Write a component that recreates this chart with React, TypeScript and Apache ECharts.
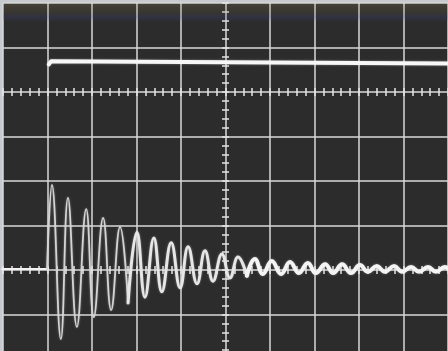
import React, { useEffect, useRef } from "react";
import * as echarts from "echarts";

// Graticule: 10 x 8 divisions, values in divisions (x: 0..10, y: -4..4)
const xDivisions = [0, 10];
const yDivisions = [-4, 4];
const tickAxisRows = [2, -2]; // horizontal centre lines carrying sub-division ticks
const tickAxisCol = 5; // vertical centre line carrying sub-division ticks

// Upper trace (step)
const stepLow: [number, number][] = [
  [0, 1.03],
  [0.94, 1.03],
];
const stepHigh: [number, number][] = [
  [1.03, 2.62],
  [1.08, 2.69],
  [10, 2.64],
];

// Lower trace: flat pre-trigger level then damped ringing
const preTrigger: [number, number][] = [
  [0, -1.99],
  [0.99, -1.98],
];
const peakX = [1.10, 1.46, 1.87, 2.25, 2.63, 3.01, 3.39, 3.78, 4.16, 4.54, 4.92, 5.28, 5.66, 6.04, 6.45, 6.85, 7.24, 7.62, 8.02, 8.40, 8.79, 9.17, 9.55, 9.93];
const peakY = [-0.09, -0.38, -0.63, -0.83, -1.03, -1.15, -1.28, -1.39, -1.48, -1.57, -1.64, -1.71, -1.75, -1.80, -1.82, -1.84, -1.87, -1.87, -1.89, -1.91, -1.91, -1.93, -1.93, -1.93];
const troughX = [1.30, 1.66, 2.04, 2.43, 2.81, 3.19, 3.57, 3.98, 4.36, 4.72, 5.10, 5.48, 5.84, 6.25, 6.65, 7.03, 7.42, 7.82, 8.20, 8.58, 8.97, 9.35, 9.73];
const troughY = [-3.55, -3.28, -3.06, -2.90, -2.74, -2.61, -2.49, -2.40, -2.31, -2.25, -2.18, -2.13, -2.09, -2.09, -2.07, -2.07, -2.07, -2.07, -2.04, -2.04, -2.04, -2.04, -2.04];
const ringEnd: [number, number] = [10, -1.97];

export default function App() {
  const ref = useRef<HTMLDivElement>(null);
  useEffect(() => {
    if (!ref.current) return;
    const chart = echarts.init(ref.current, null, { renderer: "svg" });

    const ring: [number, number][] = [preTrigger[preTrigger.length - 1]];
    for (let i = 0; i < peakX.length; i++) {
      ring.push([peakX[i], peakY[i]]);
      if (i < troughX.length) ring.push([troughX[i], troughY[i]]);
    }
    ring.push(ringEnd);
    // split by writing speed (early parts are written faster -> thinner/dimmer)
    const seg1 = ring.slice(0, 11);
    const seg2 = ring.slice(10, 25);
    const seg3 = ring.slice(24);

    const gridTop = 3;
    const gridLeft = 3;
    const gridW = 445;
    const gridH = 356;
    const pxPerDiv = gridH / (yDivisions[1] - yDivisions[0]);

    const tickXAxis = (row: number, inside: boolean) => {
      const yPix = gridTop + (yDivisions[1] - row) * pxPerDiv;
      return {
        type: "value",
        min: xDivisions[0],
        max: xDivisions[1],
        interval: 0.2,
        position: "top",
        offset: -(yPix - gridTop),
        axisLine: { show: false, onZero: false },
        axisLabel: { show: false },
        splitLine: { show: false },
        axisTick: { show: true, inside, length: 4, lineStyle: { color: "#e6e6e6", width: 1.5 } },
      };
    };
    const tickYAxis = (inside: boolean) => {
      const xPix = gridLeft + (tickAxisCol - xDivisions[0]) * (gridW / (xDivisions[1] - xDivisions[0]));
      return {
        type: "value",
        min: yDivisions[0],
        max: yDivisions[1],
        interval: 0.2,
        position: "left",
        offset: -(xPix - gridLeft),
        axisLine: { show: false, onZero: false },
        axisLabel: { show: false },
        splitLine: { show: false },
        axisTick: { show: true, inside, length: 3.5, lineStyle: { color: "#e6e6e6", width: 1.5 } },
      };
    };

    const lineSeries = (data: [number, number][], width: number, color: string, smooth: number | boolean) => ({
      type: "line",
      data,
      xAxisIndex: 0,
      yAxisIndex: 0,
      showSymbol: false,
      smooth,
      silent: true,
      clip: false,
      lineStyle: { width, color, cap: "round", join: "round", shadowBlur: 2, shadowColor: "rgba(255,255,255,0.35)" },
      z: 5,
    });

    chart.setOption({
      animation: false,
      backgroundColor: "#c7cbd0",
      grid: {
        left: gridLeft,
        top: gridTop,
        width: gridW,
        height: gridH,
        show: true,
        backgroundColor: "#2c2c2c",
        borderWidth: 0,
        containLabel: false,
        outerBoundsMode: "none",
      },
      graphic: [
        {
          type: "rect",
          z: 1,
          silent: true,
          shape: { x: gridLeft, y: gridTop + 1, width: gridW, height: 18 },
          style: {
            fill: {
              type: "linear",
              x: 0,
              y: 0,
              x2: 0,
              y2: 1,
              colorStops: [
                { offset: 0, color: "rgba(150,140,90,0.22)" },
                { offset: 0.45, color: "rgba(110,100,70,0.18)" },
                { offset: 0.7, color: "rgba(70,70,150,0.22)" },
                { offset: 1, color: "rgba(70,70,150,0)" },
              ],
            },
          },
        },
      ],
      xAxis: [
        {
          type: "value",
          min: xDivisions[0],
          max: xDivisions[1],
          interval: 1,
          axisLine: { show: false, onZero: false },
          axisTick: { show: false },
          axisLabel: { show: false },
          splitLine: { show: true, lineStyle: { color: "#d9d9d9", width: 1.5 } },
        },
        tickXAxis(tickAxisRows[1], false),
        tickXAxis(tickAxisRows[1], true),
        tickXAxis(tickAxisRows[0], false),
        tickXAxis(tickAxisRows[0], true),
      ],
      yAxis: [
        {
          type: "value",
          min: yDivisions[0],
          max: yDivisions[1],
          interval: 1,
          axisLine: { show: false, onZero: false },
          axisTick: { show: false },
          axisLabel: { show: false },
          splitLine: { show: true, lineStyle: { color: "#d9d9d9", width: 1.5 } },
        },
        tickYAxis(false),
        tickYAxis(true),
      ],
      series: [
        lineSeries(stepLow, 3.5, "#ffffff", false),
        lineSeries(stepHigh, 4, "#f7f7f7", false),
        lineSeries(preTrigger, 3.5, "#f2f2f2", false),
        lineSeries(seg1, 1.8, "#d4d4d4", 0.45),
        lineSeries(seg2, 3, "#e6e6e6", 0.45),
        lineSeries(seg3, 4, "#f4f4f4", 0.45),
      ],
    });
    return () => chart.dispose();
  }, []);
  return (
    <div
      ref={ref}
      style={{ position: "fixed", left: 0, top: 0, width: 448, height: 351 }}
    />
  );
}
